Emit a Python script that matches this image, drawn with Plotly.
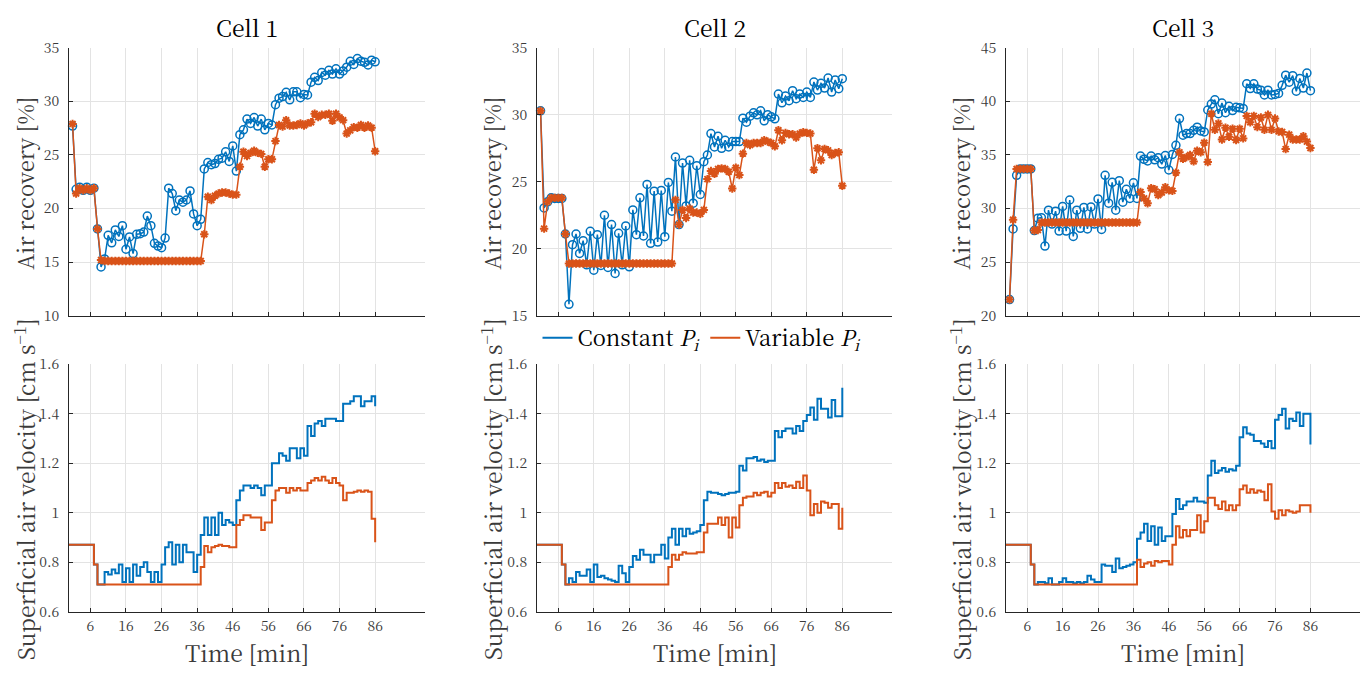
import plotly.graph_objects as go

# ---------------- data ----------------
time_top = list(range(1, 87))          # minutes, markers (air recovery)
time_bot = list(range(0, 87))          # minutes, stairs (air velocity)
x_ticks = [6, 16, 26, 36, 46, 56, 66, 76, 86]
cells = ["Cell 1", "Cell 2", "Cell 3"]

rec1_const = [27.7, 21.8, 22.0, 21.7, 22.0, 21.7, 21.9, 18.1, 14.55, 15.3,
              17.5, 16.8, 18.0, 17.4, 18.4, 16.2, 17.35, 15.8, 17.6, 17.65,
              17.8, 19.3, 18.4, 16.75, 16.5, 16.35, 17.25, 21.9, 21.4, 19.8,
              20.8, 20.6, 20.8, 21.65, 19.5, 18.4, 19.0, 23.7, 24.3, 24.1,
              24.2, 24.6, 24.7, 25.3, 24.4, 25.85, 23.5, 26.9, 27.35, 28.35,
              27.95, 28.5, 27.7, 28.35, 27.35, 27.95, 27.8, 29.7, 30.3, 30.45,
              30.85, 30.15, 30.9, 30.9, 30.35, 30.65, 30.6, 31.8, 32.25, 31.95,
              32.7, 32.45, 32.9, 32.55, 33.05, 32.55, 32.85, 33.2, 33.75, 33.45,
              34.0, 33.75, 33.65, 33.4, 33.85, 33.7]
rec1_var = [27.9, 21.4, 21.9, 21.7, 21.9, 21.7, 21.9, 18.1, 15.2, 15.1,
            15.1, 15.1, 15.1, 15.1, 15.1, 15.1, 15.1, 15.1, 15.1, 15.1,
            15.1, 15.1, 15.1, 15.1, 15.1, 15.1, 15.1, 15.1, 15.1, 15.1,
            15.1, 15.1, 15.1, 15.1, 15.1, 15.1, 15.1, 17.6, 21.1, 20.8,
            21.2, 21.4, 21.5, 21.5, 21.4, 21.3, 21.3, 23.9, 25.3, 24.9,
            25.2, 25.4, 25.2, 25.1, 23.9, 24.6, 24.6, 26.3, 27.8, 27.65,
            28.25, 27.75, 27.75, 27.8, 27.95, 27.75, 27.95, 28.05, 28.85, 28.55,
            28.75, 28.75, 28.85, 28.2, 28.85, 28.5, 28.25, 27.0, 27.3, 27.6,
            27.55, 27.8, 27.55, 27.75, 27.55, 25.35]

rec2_const = [30.3, 23.05, 23.5, 23.8, 23.75, 23.75, 23.75, 21.1, 15.85, 20.3,
              21.1, 19.65, 20.6, 18.8, 21.3, 18.4, 21.05, 18.75, 22.5, 18.6,
              21.8, 18.15, 21.15, 18.8, 21.7, 18.65, 22.9, 21.05, 23.8, 20.95,
              24.8, 20.4, 24.3, 20.5, 24.35, 20.9, 24.95, 22.8, 26.85, 21.8,
              26.4, 23.2, 26.6, 23.4, 26.2, 24.05, 26.5, 27.0, 28.6, 27.6,
              28.4, 27.5, 28.1, 27.6, 28.0, 28.0, 28.0, 29.75, 29.45, 29.9,
              30.15, 30.0, 30.3, 29.55, 30.0, 29.85, 29.7, 31.55, 30.9, 31.4,
              31.05, 31.8, 31.2, 31.55, 31.3, 31.7, 31.3, 32.45, 31.85, 32.35,
              32.0, 32.75, 31.7, 32.6, 31.95, 32.7]
rec2_var = [30.3, 21.5, 23.5, 23.8, 23.8, 23.8, 23.8, 21.1, 18.9, 18.9,
            18.9, 18.9, 18.9, 18.9, 18.9, 18.9, 18.9, 18.9, 18.9, 18.9,
            18.9, 18.9, 18.9, 18.9, 18.9, 18.9, 18.9, 18.9, 18.9, 18.9,
            18.9, 18.9, 18.9, 18.9, 18.9, 18.9, 18.9, 18.9, 23.65, 21.8,
            22.9, 22.3, 23.0, 22.7, 22.7, 22.6, 22.9, 25.2, 25.8, 25.6,
            25.95, 26.0, 25.95, 25.75, 24.5, 26.05, 25.5, 27.1, 27.9, 27.75,
            27.9, 27.9, 27.9, 28.1, 28.0, 27.9, 27.65, 28.85, 28.1, 28.65,
            28.55, 28.55, 28.3, 28.6, 28.7, 28.65, 28.6, 25.9, 27.5, 26.6,
            27.45, 27.35, 27.0, 27.15, 27.2, 24.7]

rec3_const = [21.5, 28.1, 33.1, 33.7, 33.7, 33.7, 33.7, 27.95, 29.1, 29.15,
              26.5, 29.85, 28.55, 29.75, 27.9, 30.2, 27.9, 30.8, 27.4, 29.85,
              28.15, 30.1, 28.1, 30.15, 28.55, 30.9, 28.05, 33.1, 30.5, 32.45,
              29.85, 32.6, 30.6, 31.8, 30.95, 32.4, 30.95, 34.9, 34.6, 34.45,
              34.9, 34.55, 34.75, 34.15, 34.95, 33.6, 35.05, 35.9, 38.4, 36.85,
              37.0, 37.0, 37.3, 37.6, 37.25, 37.15, 39.2, 39.75, 40.15, 38.85,
              39.85, 38.95, 39.55, 39.15, 39.45, 39.4, 39.35, 41.65, 41.2, 41.65,
              41.15, 41.05, 40.6, 41.05, 40.6, 40.65, 40.75, 41.5, 42.45, 41.8,
              42.4, 40.95, 42.15, 41.25, 42.65, 41.0]
rec3_var = [21.5, 28.95, 33.7, 33.7, 33.7, 33.7, 33.7, 27.95, 28.0, 28.7,
            28.7, 28.7, 28.7, 28.7, 28.7, 28.7, 28.7, 28.7, 28.7, 28.7,
            28.7, 28.7, 28.7, 28.7, 28.7, 28.7, 28.7, 28.7, 28.7, 28.7,
            28.7, 28.7, 28.7, 28.7, 28.7, 28.7, 28.7, 31.55, 30.95, 30.5,
            31.9, 31.8, 31.25, 31.5, 32.0, 31.7, 31.65, 33.35, 35.25, 34.65,
            34.8, 35.0, 34.4, 35.4, 35.25, 36.15, 34.35, 38.85, 37.35, 37.95,
            36.45, 37.55, 36.7, 37.45, 36.4, 37.45, 36.55, 38.65, 38.05, 38.65,
            37.6, 38.5, 37.35, 38.75, 37.35, 38.4, 37.2, 37.15, 35.55, 36.9,
            36.45, 36.45, 36.45, 36.75, 36.25, 35.65]

vel1_const = [0.87, 0.87, 0.87, 0.87, 0.87, 0.87, 0.87, 0.79, 0.71, 0.71,
              0.76, 0.75, 0.77, 0.755, 0.79, 0.72, 0.775, 0.72, 0.79, 0.745,
              0.78, 0.80, 0.76, 0.72, 0.76, 0.72, 0.79, 0.86, 0.88, 0.79,
              0.87, 0.80, 0.87, 0.84, 0.84, 0.76, 0.83, 0.91, 0.98, 0.91,
              0.98, 0.91, 1.00, 0.95, 0.97, 0.96, 0.95, 1.05, 1.09, 1.11,
              1.11, 1.10, 1.11, 1.10, 1.07, 1.11, 1.11, 1.20, 1.20, 1.24,
              1.23, 1.21, 1.26, 1.26, 1.22, 1.26, 1.23, 1.35, 1.31, 1.36,
              1.37, 1.35, 1.38, 1.38, 1.38, 1.37, 1.37, 1.44, 1.44, 1.45,
              1.47, 1.47, 1.43, 1.45, 1.45, 1.47, 1.43]
vel1_var = [0.87, 0.87, 0.87, 0.87, 0.87, 0.87, 0.87, 0.79, 0.71, 0.71,
            0.71, 0.71, 0.71, 0.71, 0.71, 0.71, 0.71, 0.71, 0.71, 0.71,
            0.71, 0.71, 0.71, 0.71, 0.71, 0.71, 0.71, 0.71, 0.71, 0.71,
            0.71, 0.71, 0.71, 0.71, 0.71, 0.71, 0.71, 0.78, 0.865, 0.84,
            0.86, 0.865, 0.87, 0.865, 0.865, 0.86, 0.86, 0.95, 0.97, 0.99,
            0.99, 0.98, 0.98, 0.98, 0.93, 0.96, 0.96, 1.05, 1.09, 1.10,
            1.10, 1.08, 1.10, 1.09, 1.10, 1.09, 1.09, 1.12, 1.13, 1.14,
            1.13, 1.145, 1.13, 1.12, 1.14, 1.12, 1.11, 1.05, 1.08, 1.08,
            1.085, 1.09, 1.085, 1.09, 1.085, 0.975, 0.88]

vel2_const = [0.87, 0.87, 0.87, 0.87, 0.87, 0.87, 0.87, 0.79, 0.71, 0.735,
              0.72, 0.76, 0.745, 0.745, 0.77, 0.72, 0.79, 0.74, 0.745, 0.735,
              0.73, 0.725, 0.72, 0.785, 0.755, 0.72, 0.78, 0.825, 0.81, 0.85,
              0.83, 0.83, 0.80, 0.83, 0.83, 0.87, 0.815, 0.90, 0.935, 0.87,
              0.935, 0.905, 0.935, 0.915, 0.92, 0.925, 0.95, 1.05, 1.085, 1.08,
              1.08, 1.075, 1.07, 1.075, 1.08, 1.08, 1.085, 1.19, 1.17, 1.22,
              1.22, 1.225, 1.21, 1.215, 1.205, 1.21, 1.21, 1.33, 1.305, 1.33,
              1.34, 1.34, 1.32, 1.35, 1.33, 1.37, 1.395, 1.425, 1.375, 1.46,
              1.42, 1.42, 1.385, 1.455, 1.39, 1.39, 1.505]
vel2_var = [0.87, 0.87, 0.87, 0.87, 0.87, 0.87, 0.87, 0.79, 0.71, 0.71,
            0.71, 0.71, 0.71, 0.71, 0.71, 0.71, 0.71, 0.71, 0.71, 0.71,
            0.71, 0.71, 0.71, 0.71, 0.71, 0.71, 0.71, 0.71, 0.71, 0.71,
            0.71, 0.71, 0.71, 0.71, 0.71, 0.71, 0.71, 0.78, 0.83, 0.81,
            0.83, 0.84, 0.835, 0.835, 0.835, 0.84, 0.84, 0.92, 0.955, 0.955,
            0.955, 0.98, 0.95, 0.98, 0.90, 0.98, 0.94, 1.03, 1.06, 1.065,
            1.065, 1.08, 1.07, 1.08, 1.085, 1.065, 1.08, 1.12, 1.10, 1.12,
            1.105, 1.11, 1.10, 1.125, 1.10, 1.15, 1.09, 0.99, 1.035, 1.00,
            1.045, 1.04, 1.02, 1.035, 1.035, 0.935, 1.02]

vel3_const = [0.87, 0.87, 0.87, 0.87, 0.87, 0.87, 0.87, 0.79, 0.71, 0.72,
              0.72, 0.715, 0.735, 0.71, 0.71, 0.72, 0.735, 0.72, 0.72, 0.715,
              0.72, 0.715, 0.72, 0.745, 0.73, 0.72, 0.72, 0.79, 0.785, 0.785,
              0.76, 0.815, 0.775, 0.78, 0.785, 0.79, 0.80, 0.895, 0.92, 0.955,
              0.885, 0.945, 0.87, 0.94, 0.885, 0.905, 0.905, 0.995, 1.055, 1.015,
              1.03, 1.045, 1.045, 1.06, 1.045, 1.045, 1.04, 1.15, 1.21, 1.16,
              1.17, 1.18, 1.165, 1.175, 1.17, 1.19, 1.305, 1.345, 1.32, 1.315,
              1.29, 1.29, 1.28, 1.265, 1.29, 1.26, 1.375, 1.395, 1.42, 1.34,
              1.38, 1.37, 1.405, 1.35, 1.40, 1.40, 1.275]
vel3_var = [0.87, 0.87, 0.87, 0.87, 0.87, 0.87, 0.87, 0.79, 0.71, 0.71,
            0.71, 0.71, 0.71, 0.71, 0.71, 0.71, 0.71, 0.71, 0.71, 0.71,
            0.71, 0.71, 0.71, 0.71, 0.71, 0.71, 0.71, 0.71, 0.71, 0.71,
            0.71, 0.71, 0.71, 0.71, 0.71, 0.71, 0.71, 0.81, 0.78, 0.795,
            0.80, 0.785, 0.805, 0.80, 0.805, 0.805, 0.79, 0.87, 0.945, 0.90,
            0.93, 0.905, 0.93, 0.93, 0.99, 0.92, 0.965, 1.06, 1.06, 1.03,
            1.015, 1.045, 1.01, 1.03, 1.01, 1.03, 1.095, 1.11, 1.08, 1.095,
            1.08, 1.09, 1.085, 1.05, 1.115, 1.005, 0.975, 1.01, 0.99, 1.01,
            1.005, 1.00, 1.005, 1.03, 1.03, 1.03, 1.00]

rec_const = [rec1_const, rec2_const, rec3_const]
rec_var = [rec1_var, rec2_var, rec3_var]
vel_const = [vel1_const, vel2_const, vel3_const]
vel_var = [vel1_var, vel2_var, vel3_var]
rec_ranges = [[10, 35], [15, 35], [20, 45]]
rec_ticks = [[10, 15, 20, 25, 30, 35], [15, 20, 25, 30, 35], [20, 25, 30, 35, 40, 45]]
vel_ticks = [0.6, 0.8, 1.0, 1.2, 1.4, 1.6]
vel_ticktext = ["0.6", "0.8", "1", "1.2", "1.4", "1.6"]

# ---------------- style ----------------
BLUE = "#0072BD"
ORANGE = "#D95319"
FONT = "Noto Serif CJK SC"
AX_COL = "#262626"
TXT_COL = "#3a3a3a"
GRID = "#e3e3e3"
W, H = 1370, 674

x_dom_px = [(69, 425), (537, 892), (1006, 1360)]
y_top_px = (38, 314)
y_bot_px = (364, 619)


def xd(a, b):
    return [a / W, b / W]


def yd(top, bot):
    return [1 - bot / H, 1 - top / H]


fig = go.Figure()
layout = dict(width=W, height=H, autosize=False,
              margin=dict(l=0, r=0, t=0, b=0),
              paper_bgcolor="white", plot_bgcolor="white",
              font=dict(family=FONT, size=15, color=TXT_COL),
              showlegend=True)

ann = []
for i in range(3):
    it = 2 * i + 1       # top axis index
    ib = 2 * i + 2       # bottom axis index
    sx_t = "" if it == 1 else str(it)
    sx_b = str(ib)
    common_x = dict(range=[0, 100], tickvals=x_ticks, showgrid=True, gridcolor=GRID,
                    gridwidth=1, zeroline=False, showline=True, linecolor=AX_COL,
                    linewidth=1, ticks="inside", ticklen=4, tickcolor=AX_COL,
                    ticklabelstandoff=2,
                    tickfont=dict(family=FONT, size=14, color=TXT_COL),
                    domain=xd(*x_dom_px[i]), fixedrange=True)
    common_y = dict(showgrid=True, gridcolor=GRID, gridwidth=1, zeroline=False,
                    showline=True, linecolor=AX_COL, linewidth=1, ticks="inside",
                    ticklen=4, tickcolor=AX_COL, ticklabelstandoff=6,
                    tickfont=dict(family=FONT, size=14, color=TXT_COL), fixedrange=True)
    layout["xaxis" + sx_t] = dict(common_x, anchor="y" + sx_t, showticklabels=False)
    layout["yaxis" + sx_t] = dict(common_y, anchor="x" + sx_t, range=rec_ranges[i],
                                  tickvals=rec_ticks[i], domain=yd(*y_top_px))
    layout["xaxis" + sx_b] = dict(common_x, anchor="y" + sx_b, showticklabels=True)
    layout["yaxis" + sx_b] = dict(common_y, anchor="x" + sx_b, range=[0.6, 1.6],
                                  tickvals=vel_ticks, ticktext=vel_ticktext,
                                  domain=yd(*y_bot_px))

    xa_t, ya_t = "x" + sx_t, "y" + sx_t
    xa_b, ya_b = "x" + sx_b, "y" + sx_b

    fig.add_trace(go.Scatter(x=time_top, y=rec_const[i], mode="lines+markers",
                             line=dict(color=BLUE, width=1.5),
                             marker=dict(symbol="circle-open", size=8, color=BLUE,
                                         line=dict(width=1.5, color=BLUE)),
                             xaxis=xa_t, yaxis=ya_t, showlegend=False,
                             name="Constant", cliponaxis=False))
    fig.add_trace(go.Scatter(x=time_top, y=rec_var[i], mode="lines+markers",
                             line=dict(color=ORANGE, width=1.5),
                             marker=dict(symbol="asterisk-open", size=7, color=ORANGE,
                                         line=dict(width=2, color=ORANGE)),
                             xaxis=xa_t, yaxis=ya_t, showlegend=False,
                             name="Variable", cliponaxis=False))
    fig.add_trace(go.Scatter(x=time_bot, y=vel_const[i], mode="lines",
                             line=dict(color=BLUE, width=2, shape="hv"),
                             xaxis=xa_b, yaxis=ya_b, showlegend=(i == 0),
                             name="Constant <i>P</i><sub><i>i</i></sub>"))
    fig.add_trace(go.Scatter(x=time_bot, y=vel_var[i], mode="lines",
                             line=dict(color=ORANGE, width=2, shape="hv"),
                             xaxis=xa_b, yaxis=ya_b, showlegend=(i == 0),
                             name="Variable <i>P</i><sub><i>i</i></sub>"))

    cx = (x_dom_px[i][0] + x_dom_px[i][1]) / 2 / W
    ann.append(dict(text=cells[i], x=cx, y=1 - 17 / H, xref="paper", yref="paper",
                    xanchor="center", yanchor="middle", showarrow=False,
                    font=dict(family=FONT, size=23, color="black")))
    ann.append(dict(text="Time [min]", x=cx, y=1 - 661 / H, xref="paper", yref="paper",
                    xanchor="center", yanchor="middle", showarrow=False,
                    font=dict(family=FONT, size=23, color=TXT_COL)))
    ylab_x = [25, 492, 961][i] / W
    ann.append(dict(text="Air recovery [%]", x=ylab_x, y=1 - 178 / H,
                    xref="paper", yref="paper", xanchor="center", yanchor="middle",
                    textangle=-90, showarrow=False,
                    font=dict(family=FONT, size=22, color=TXT_COL)))
    ann.append(dict(text="Superficial air velocity [cm s<sup>\u22121</sup>]", x=ylab_x,
                    y=1 - 493 / H, xref="paper", yref="paper", xanchor="center",
                    yanchor="middle", textangle=-90, showarrow=False,
                    font=dict(family=FONT, size=23, color=TXT_COL)))

layout["annotations"] = ann
layout["legend"] = dict(orientation="h", x=702 / W, xanchor="center", y=1 - 337 / H,
                        yanchor="middle", bgcolor="rgba(0,0,0,0)",
                        font=dict(family=FONT, size=22, color="black"),
                        itemwidth=30, tracegroupgap=0)
fig.update_layout(**layout)
fig.write_html("out.html")
